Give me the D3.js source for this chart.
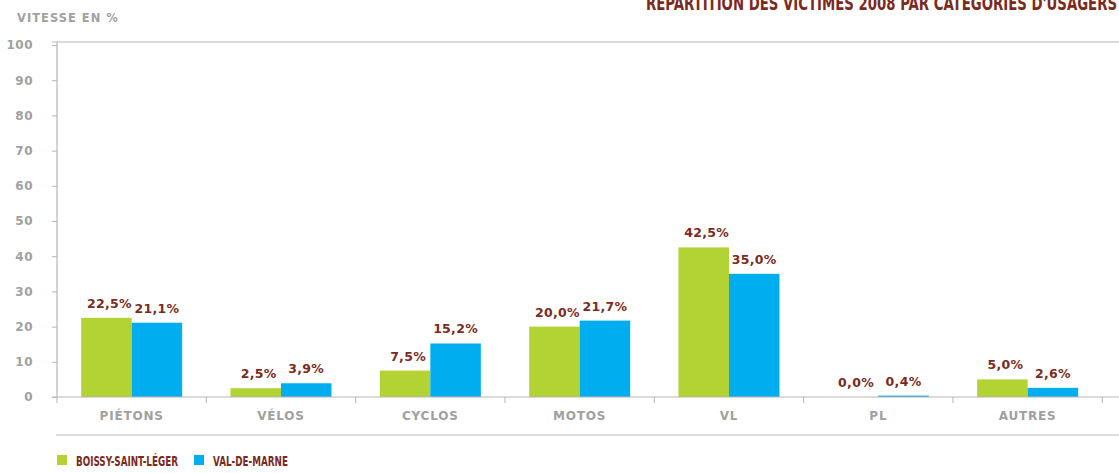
<!DOCTYPE html>
<html><head><meta charset="utf-8">
<script src="https://cdn.jsdelivr.net/npm/d3@7"></script>
<style>
body{margin:0;background:#fff;}
svg{display:block;}
</style></head>
<body>
<svg id="chart" width="1119" height="473"></svg>
<script>
const categories = ["PIÉTONS","VÉLOS","CYCLOS","MOTOS","VL","PL","AUTRES"];
const boissy = [22.5, 2.5, 7.5, 20.0, 42.5, 0.0, 5.0];
const valDeMarne = [21.1, 3.9, 15.2, 21.7, 35.0, 0.4, 2.6];
const seriesNames = ["BOISSY-SAINT-LÉGER","VAL-DE-MARNE"];
const yTicks = [0,10,20,30,40,50,60,70,80,90,100];
const title = "RÉPARTITION DES VICTIMES 2008 PAR CATÉGORIES D'USAGERS";
const yTitle = "VITESSE EN %";

const colors = ["#b3d335","#00adee"];
const red = "#7b2b1d";
const gray = "#a0a0a0";
const lineGray = "#b5b5b5";

const svg = d3.select("#chart");
const x0 = 57, x1 = 1102.3;
const x = d3.scaleBand().domain(categories).range([x0, x1]).paddingInner(0).paddingOuter(0);
const groupW = 101;
const y = d3.scaleLinear().domain([0,100]).range([397, 45]);

function fitText(sel, w){
  sel.attr("textLength", w).attr("lengthAdjust","spacingAndGlyphs");
}

// title
fitText(svg.append("text").attr("x",1117).attr("y",10).attr("text-anchor","end")
  .attr("font-family","'DejaVu Sans Condensed','DejaVu Sans',sans-serif")
  .attr("font-weight","bold").attr("font-size",20).attr("fill",red).text(title), 471);

svg.append("text").attr("x",17).attr("y",22)
  .attr("font-family","'DejaVu Sans',sans-serif").attr("font-weight","bold")
  .attr("font-size",11.5).attr("letter-spacing",1).attr("fill",gray).text(yTitle);

// top line
svg.append("line").attr("x1",52).attr("x2",1119).attr("y1",42).attr("y2",42)
  .attr("stroke",lineGray).attr("stroke-width",1.2);

// y axis
const yAxis = svg.append("g").attr("transform",`translate(${x0},0)`)
  .call(d3.axisLeft(y).tickValues(yTicks).tickSize(5).tickPadding(19));
yAxis.select(".domain").attr("stroke",lineGray).attr("stroke-width",1.2).attr("d",`M0,42V397`);
yAxis.selectAll(".tick line").attr("stroke",lineGray);
yAxis.selectAll(".tick text").attr("font-family","'DejaVu Sans',sans-serif")
  .attr("font-weight","bold").attr("font-size",12).attr("letter-spacing",0.5).attr("fill",gray);

// bars
const data = categories.map((c,i)=>({c, v:[boissy[i], valDeMarne[i]]}));
const g = svg.append("g");
data.forEach(d=>{
  const start = x(d.c) + (x.bandwidth()-groupW)/2;
  d.v.forEach((v,k)=>{
    const bx = start + k*groupW/2;
    g.append("rect").attr("x",bx).attr("y",y(v)).attr("width",groupW/2)
      .attr("height",Math.max(0,y(0)-y(v))).attr("fill",colors[k]);
    g.append("text").attr("x",bx+groupW/4 + (k===0?3:0)).attr("y",y(v)-10)
      .attr("text-anchor","middle").attr("font-family","'DejaVu Sans',sans-serif")
      .attr("font-weight","bold").attr("font-size",12.5).attr("letter-spacing",0.3).attr("fill",red)
      .text(v.toFixed(1).replace(".",",")+"%");
  });
});

// x axis
const xAxis = svg.append("g").attr("transform",`translate(0,397)`)
  .call(d3.axisBottom(x).tickSize(0).tickPadding(14));
xAxis.select(".domain").attr("stroke",lineGray).attr("stroke-width",1.2).attr("d",`M${x0-5},0H1119`);
xAxis.selectAll(".tick text").attr("font-family","'DejaVu Sans',sans-serif")
  .attr("font-weight","bold").attr("font-size",12).attr("letter-spacing",0.8).attr("fill",gray);
// category separators
const seps = categories.map(c=>x(c)).concat([x1]);
svg.append("g").selectAll("line").data(seps).join("line")
  .attr("x1",d=>d).attr("x2",d=>d).attr("y1",397).attr("y2",403)
  .attr("stroke",lineGray);

// bottom line
svg.append("line").attr("x1",56).attr("x2",1119).attr("y1",435).attr("y2",435)
  .attr("stroke",lineGray).attr("stroke-width",1.2);

// legend
const legX = [57,194];
const legW = [102,75];
seriesNames.forEach((n,k)=>{
  svg.append("rect").attr("x",legX[k]).attr("y",455).attr("width",10).attr("height",10).attr("fill",colors[k]);
  fitText(svg.append("text").attr("x",legX[k]+19).attr("y",465.5)
    .attr("font-family","'DejaVu Sans Condensed','DejaVu Sans',sans-serif")
    .attr("font-weight","bold").attr("font-size",14).attr("fill",red).text(n), legW[k]);
});
</script>
</body></html>
